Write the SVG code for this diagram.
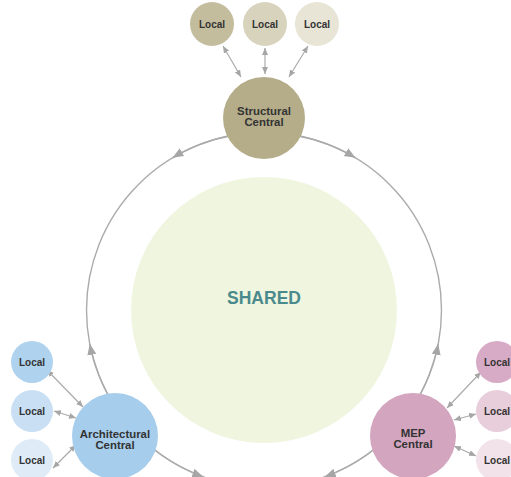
<svg xmlns="http://www.w3.org/2000/svg" width="511" height="477" viewBox="0 0 511 477">
<style>
.lbl{font-family:"Liberation Sans",Arial,sans-serif;font-weight:bold;fill:#333;text-anchor:middle}
.loc{font-size:10px}
.cen{font-size:11.4px}
.ring{fill:none;stroke:#ababab;stroke-width:1.4}
.arc{fill:none;stroke:#ababab;stroke-width:1.4;marker-end:url(#ah)}
.lk{fill:none;stroke:#ababab;stroke-width:1.2;marker-start:url(#sh);marker-end:url(#sh)}
</style>
<defs>
<marker id="ah" markerUnits="userSpaceOnUse" markerWidth="12" markerHeight="10" refX="11" refY="4.5" orient="auto">
<path d="M0,0 L11,4.5 L0,9 Z" fill="#a6a6a6"/>
</marker>
<marker id="sh" markerUnits="userSpaceOnUse" markerWidth="8" markerHeight="7" refX="7" refY="3" orient="auto-start-reverse">
<path d="M0,0 L7,3 L0,6 Z" fill="#a6a6a6"/>
</marker>
</defs>
<rect width="511" height="477" fill="#ffffff"/>
<g id="shared">
<circle cx="264" cy="310" r="133" fill="#f0f5df"/>
<text x="264" y="304" font-family="Liberation Sans,Arial,sans-serif" font-weight="bold" font-size="17.5" fill="#4b8a8c" text-anchor="middle">SHARED</text>
</g>
<g id="connectors">
<circle class="ring" cx="264" cy="310" r="177.5"/>
<path class="arc" d="M264,132.5 A177.5,177.5 0 0 0 172.58,157.85"/>
<path class="arc" d="M264,132.5 A177.5,177.5 0 0 1 355.42,157.85"/>
<path class="arc" d="M128.03,424.1 A177.5,177.5 0 0 1 89.76,343.87"/>
<path class="arc" d="M128.03,424.1 A177.5,177.5 0 0 0 203.29,476.8"/>
<path class="arc" d="M399.97,424.1 A177.5,177.5 0 0 0 438.24,343.87"/>
<path class="arc" d="M399.97,424.1 A177.5,177.5 0 0 1 324.71,476.8"/>
<path class="lk" d="M223,46 L241,77"/>
<path class="lk" d="M265,48 L265,74"/>
<path class="lk" d="M308,46 L289,77"/>
<path class="lk" d="M47,370 L83,407"/>
<path class="lk" d="M54,411 L76,418"/>
<path class="lk" d="M53,468 L76,445"/>
<path class="lk" d="M481,372 L447,408"/>
<path class="lk" d="M476,414 L454,420"/>
<path class="lk" d="M476,456 L454,446"/>
</g>
<g id="structural-central">
<circle cx="264" cy="118" r="41" fill="#b5ad8a"/>
<text class="lbl cen" x="264" y="114.5">Structural</text>
<text class="lbl cen" x="264" y="126">Central</text>
</g>
<g id="structural-local-1">
<circle cx="212" cy="24" r="22" fill="#c4bd9d"/>
<text class="lbl loc" x="212" y="27.5">Local</text>
</g>
<g id="structural-local-2">
<circle cx="265" cy="24" r="22" fill="#d8d3bd"/>
<text class="lbl loc" x="265" y="27.5">Local</text>
</g>
<g id="structural-local-3">
<circle cx="317" cy="24" r="22" fill="#e8e5d6"/>
<text class="lbl loc" x="317" y="27.5">Local</text>
</g>
<g id="architectural-central">
<circle cx="115" cy="436" r="43" fill="#a6cdec"/>
<text class="lbl cen" x="115" y="437.5">Architectural</text>
<text class="lbl cen" x="115" y="448.5">Central</text>
</g>
<g id="architectural-local-1">
<circle cx="32" cy="362" r="21" fill="#afd2ef"/>
<text class="lbl loc" x="32" y="365.5">Local</text>
</g>
<g id="architectural-local-2">
<circle cx="32" cy="411" r="21" fill="#c9dff3"/>
<text class="lbl loc" x="32" y="414.5">Local</text>
</g>
<g id="architectural-local-3">
<circle cx="32" cy="460" r="21" fill="#dfecf8"/>
<text class="lbl loc" x="32" y="463.5">Local</text>
</g>
<g id="mep-central">
<circle cx="413" cy="436" r="43" fill="#d3a5bf"/>
<text class="lbl cen" x="413" y="436.5">MEP</text>
<text class="lbl cen" x="413" y="447.5">Central</text>
</g>
<g id="mep-local-1">
<circle cx="497" cy="362" r="21" fill="#d7abc5"/>
<text class="lbl loc" x="497" y="365.5">Local</text>
</g>
<g id="mep-local-2">
<circle cx="497" cy="411" r="21" fill="#e8cdda"/>
<text class="lbl loc" x="497" y="414.5">Local</text>
</g>
<g id="mep-local-3">
<circle cx="497" cy="460" r="21" fill="#f2e3ea"/>
<text class="lbl loc" x="497" y="463.5">Local</text>
</g>
</svg>
